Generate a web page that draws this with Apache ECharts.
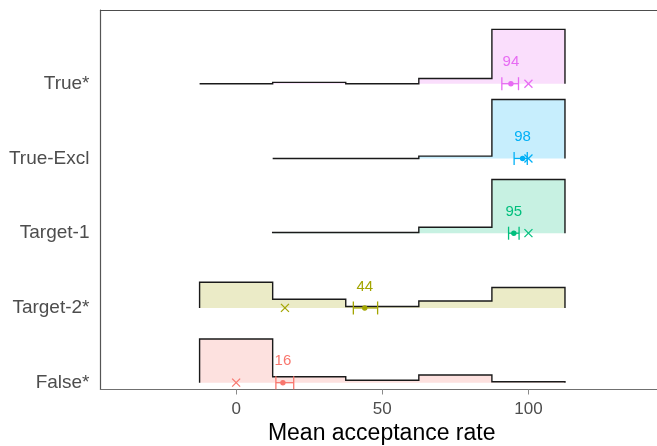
<!DOCTYPE html>
<html>
<head>
<meta charset="utf-8">
<script src="https://cdn.jsdelivr.net/npm/echarts@6/dist/echarts.min.js"></script>
<style>
  html, body { margin: 0; padding: 0; background: #ffffff; }
  #chart { width: 657px; height: 446px; }
</style>
</head>
<body>
<div id="chart"></div>
<script>
// Rows, bottom to top
const rowNames = ['False*', 'Target-2*', 'Target-1', 'True-Excl', 'True*'];
const rowColors = ['#F8766D', '#A3A500', '#00BF7D', '#00B0F6', '#E76BF3'];

// Histogram bins (width 25, centred on 0, 25, 50, 75, 100)
const binEdges = [-12.5, 12.5, 37.5, 62.5, 87.5, 112.5];

// Share of responses per bin (null = no bin drawn)
const shareFalse   = [0.713, 0.098, 0.039, 0.126, 0.016];
const shareTarget2 = [0.419, 0.142, 0.023, 0.114, 0.333];
const shareTarget1 = [null, 0.011, 0.011, 0.098, 0.876];
const shareTrueExc = [null, 0.000, 0.000, 0.038, 0.962];
const shareTrue    = [0.000, 0.021, 0.000, 0.086, 0.886];
const binShares = [shareFalse, shareTarget2, shareTarget1, shareTrueExc, shareTrue];

// Mean with confidence interval, and the median (×)
const meanValues = [16, 44, 95, 98, 94];
const ciLow      = [13.6, 40.1, 93.2, 95.1, 90.9];
const ciHigh     = [19.7, 48.4, 96.8, 99.6, 96.6];
const medianValues = [0, 16.7, 100, 100, 100];

const xTicks = [0, 50, 100];

// Ridge height for a share of 1, in row units
const ridgeScale = 0.82;

function withAlpha(hex, a) {
  const r = parseInt(hex.slice(1, 3), 16), g = parseInt(hex.slice(3, 5), 16), b = parseInt(hex.slice(5, 7), 16);
  return 'rgba(' + r + ',' + g + ',' + b + ',' + a + ')';
}

const ridgeData = rowNames.map((n, i) => [i]);
const statData = rowNames.map((n, i) => [i, meanValues[i], ciLow[i], ciHigh[i], medianValues[i]]);

function renderRidge(params, api) {
  const row = api.value(0);
  const shares = binShares[row];
  const pts = [];
  let first = -1;
  for (let j = 0; j < shares.length; j++) {
    if (shares[j] === null) continue;
    if (first < 0) { first = j; pts.push(api.coord([binEdges[j], row])); }
    const h = row + shares[j] * ridgeScale;
    pts.push(api.coord([binEdges[j], h]));
    pts.push(api.coord([binEdges[j + 1], h]));
  }
  pts.push(api.coord([binEdges[binEdges.length - 1], row]));
  return {
    type: 'group',
    children: [
      { type: 'polygon', shape: { points: pts }, style: { fill: withAlpha(rowColors[row], 0.22), stroke: null } },
      { type: 'polyline', shape: { points: pts }, style: { fill: null, stroke: '#1a1a1a', lineWidth: 1.4 } }
    ]
  };
}

function renderStats(params, api) {
  const row = api.value(0);
  const color = rowColors[row];
  const m = api.coord([api.value(1), row]);
  const lo = api.coord([api.value(2), row]);
  const hi = api.coord([api.value(3), row]);
  const md = api.coord([api.value(4), row]);
  const cap = 6.5, xs = 4;
  const lw = 1.3;
  return {
    type: 'group',
    children: [
      { type: 'line', shape: { x1: lo[0], y1: lo[1], x2: hi[0], y2: hi[1] }, style: { stroke: color, lineWidth: lw } },
      { type: 'line', shape: { x1: lo[0], y1: lo[1] - cap, x2: lo[0], y2: lo[1] + cap }, style: { stroke: color, lineWidth: lw } },
      { type: 'line', shape: { x1: hi[0], y1: hi[1] - cap, x2: hi[0], y2: hi[1] + cap }, style: { stroke: color, lineWidth: lw } },
      { type: 'circle', shape: { cx: m[0], cy: m[1], r: 2.7 }, style: { fill: color } },
      { type: 'line', shape: { x1: md[0] - xs, y1: md[1] - xs, x2: md[0] + xs, y2: md[1] + xs }, style: { stroke: color, lineWidth: 1.2 } },
      { type: 'line', shape: { x1: md[0] - xs, y1: md[1] + xs, x2: md[0] + xs, y2: md[1] - xs }, style: { stroke: color, lineWidth: 1.2 } },
      { type: 'text', style: { x: m[0], y: m[1] - 21.5, text: String(api.value(1)), fill: color,
          font: '15px "Liberation Sans", Arial, sans-serif', align: 'center', verticalAlign: 'middle' } }
    ]
  };
}

const chart = echarts.init(document.getElementById('chart'), null, { renderer: 'canvas' });
chart.setOption({
  animation: false,
  backgroundColor: '#ffffff',
  textStyle: { fontFamily: '"Liberation Sans", Arial, sans-serif' },
  grid: {
    left: 100.5, top: 10, width: 562.4, height: 379.5,
    show: false, outerBoundsMode: 'none', containLabel: false
  },
  xAxis: [{
    type: 'value', min: -46.4, max: 146, position: 'bottom',
    splitLine: { show: false },
    axisLine: { show: true, onZero: false, lineStyle: { color: '#707070', width: 1.2 } },
    axisTick: { show: true, length: 5, customValues: xTicks, lineStyle: { color: '#8a8a8a', width: 1 } },
    axisLabel: { customValues: xTicks, fontSize: 17, color: '#4d4d4d', margin: 11 },
    name: 'Mean acceptance rate', nameLocation: 'middle', nameGap: 33,
    nameTextStyle: { fontSize: 23, color: '#000000' }
  }, {
    // top edge of the panel frame
    type: 'value', min: -46.4, max: 146, position: 'top',
    splitLine: { show: false },
    axisLine: { show: true, onZero: false, lineStyle: { color: '#4d4d4d', width: 1.2 } },
    axisTick: { show: false }, axisLabel: { show: false }
  }],
  yAxis: {
    type: 'value', min: -0.091, max: 4.986, position: 'left',
    splitLine: { show: false },
    axisLine: { show: true, onZero: false, lineStyle: { color: '#555555', width: 1.2 } },
    axisTick: { show: false },
    axisLabel: {
      customValues: [0, 1, 2, 3, 4], fontSize: 19, color: '#4d4d4d', margin: 11,
      formatter: v => rowNames[Math.round(v)]
    }
  },
  series: [
    { type: 'custom', renderItem: renderRidge, data: ridgeData, z: 2, clip: false },
    { type: 'custom', renderItem: renderStats, data: statData, z: 3, clip: false }
  ]
});
</script>
</body>
</html>
